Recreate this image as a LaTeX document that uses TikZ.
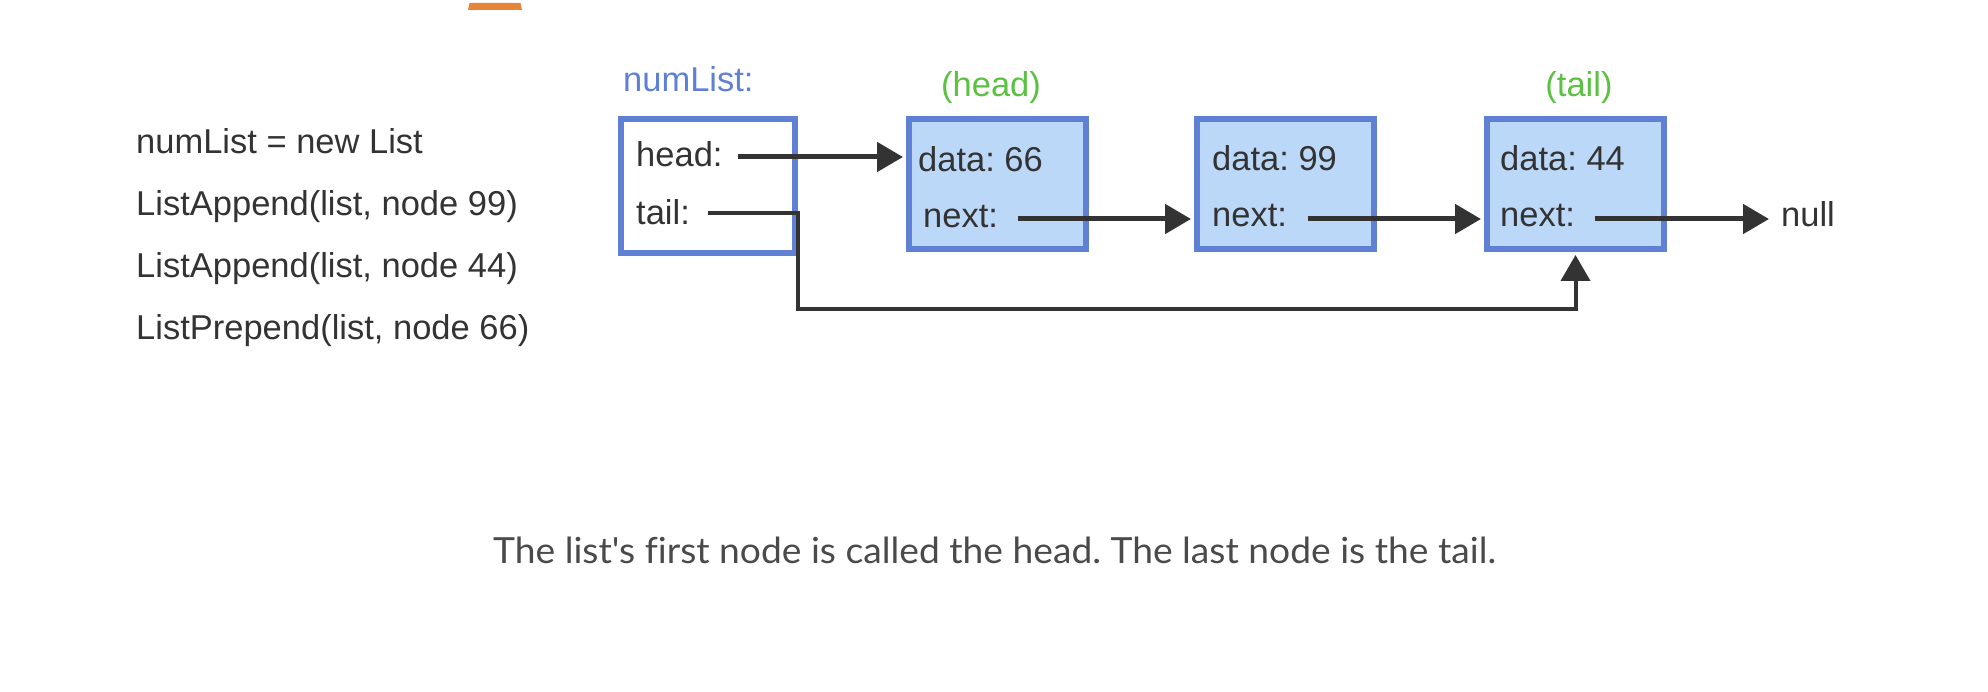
\documentclass[tikz,border=0pt]{standalone}
\usepackage{fontspec}
\setmainfont{Liberation Sans}
\newfontfamily\caplfont[Ligatures={TeXOff,NoCommon}]{Lato}
\usepackage{graphicx}
\usetikzlibrary{arrows.meta}
\definecolor{boxblue}{HTML}{5F80D3}
\definecolor{fillblue}{HTML}{BBD8F9}
\definecolor{ink}{HTML}{333333}
\definecolor{lblgreen}{HTML}{5CC142}
\definecolor{taborange}{HTML}{E8833A}
\definecolor{capgray}{HTML}{4A4A4A}
\frenchspacing
\begin{document}
\begin{tikzpicture}[x=1pt,y=-1pt,
  txt/.style={anchor=base west, inner sep=0pt, text=ink, font=\fontsize{34.5}{40}\selectfont},
  listbox/.style={draw=boxblue, line width=6pt, fill=white, inner sep=0pt, rectangle, minimum width=174pt, minimum height=134pt},
  cellbox/.style={listbox, fill=fillblue, minimum width=177pt, minimum height=130pt},
  ptr/.style={draw=ink, line width=5pt, line join=miter, -{Triangle[length=26pt,width=29pt]}, shorten >=3pt},
  tailptr/.style={ptr, line width=4pt}
]
\useasboundingbox (0,0) rectangle (1988,692);
\fill[taborange] (468,10) -- (469.5,3) -- (520.5,3) -- (522,10) -- cycle;

% code lines
\node[txt] (c1) at (136,154) {numList = new List};
\node[txt] (c2) at (136,216) {ListAppend(list, node 99)};
\node[txt] (c3) at (136,278) {ListAppend(list, node 44)};
\node[txt] (c4) at (136,340) {ListPrepend(list, node 66)};

% boxes
\node[listbox] (nl) at (708,186) {};
\node[cellbox] (n1) at (997.5,184) {};
\node[cellbox] (n2) at (1285.5,184) {};
\node[cellbox] (n3) at (1575.5,184) {};

% labels
\node[txt, text=boxblue] (lbl) at (623,92) {numList:};
\node[txt, anchor=base, text=lblgreen] (hlab) at (991,97) {(head)};
\node[txt, anchor=base, text=lblgreen] (tlab) at (1579,97) {(tail)};

% fields
\node[txt] (hd) at (636,167) {head:};
\node[txt] (tl) at (636,225) {tail:};
\node[txt] (d1) at (918,172) {data: 66};
\node[txt] (x1) at (923,228) {next:};
\node[txt] (d2) at (1212,171) {data: 99};
\node[txt] (x2) at (1212,227) {next:};
\node[txt] (d3) at (1500,171) {data: 44};
\node[txt] (x3) at (1500,227) {next:};
\node[txt] (nul) at (1781,227) {null};

% pointers
\coordinate (hs) at (738,157);
\coordinate (s1) at (1018,219);
\coordinate (s2) at (1308,219);
\coordinate (s3) at (1595,219);
\coordinate (ts) at (708,213);
\coordinate (tb) at (798,309);
\draw[ptr] (hs) -- (hs -| n1.west);
\draw[ptr] (s1) -- (s1 -| n2.west);
\draw[ptr] (s2) -- (s2 -| n3.west);
\draw[ptr, shorten >=12pt] (s3) -- (s3 -| nul.west);
\draw[tailptr] (ts) -- (ts -| tb) -- (tb) -- (tb -| n3.south) -- (n3.south);

% caption
\node[anchor=base west, inner sep=0pt, text=capgray] (cap) at (493,563)
  {\resizebox{1003pt}{\height}{\caplfont\fontsize{36}{40}\selectfont The list's first node is called the head. The last node is the tail.}};
\end{tikzpicture}
\end{document}
